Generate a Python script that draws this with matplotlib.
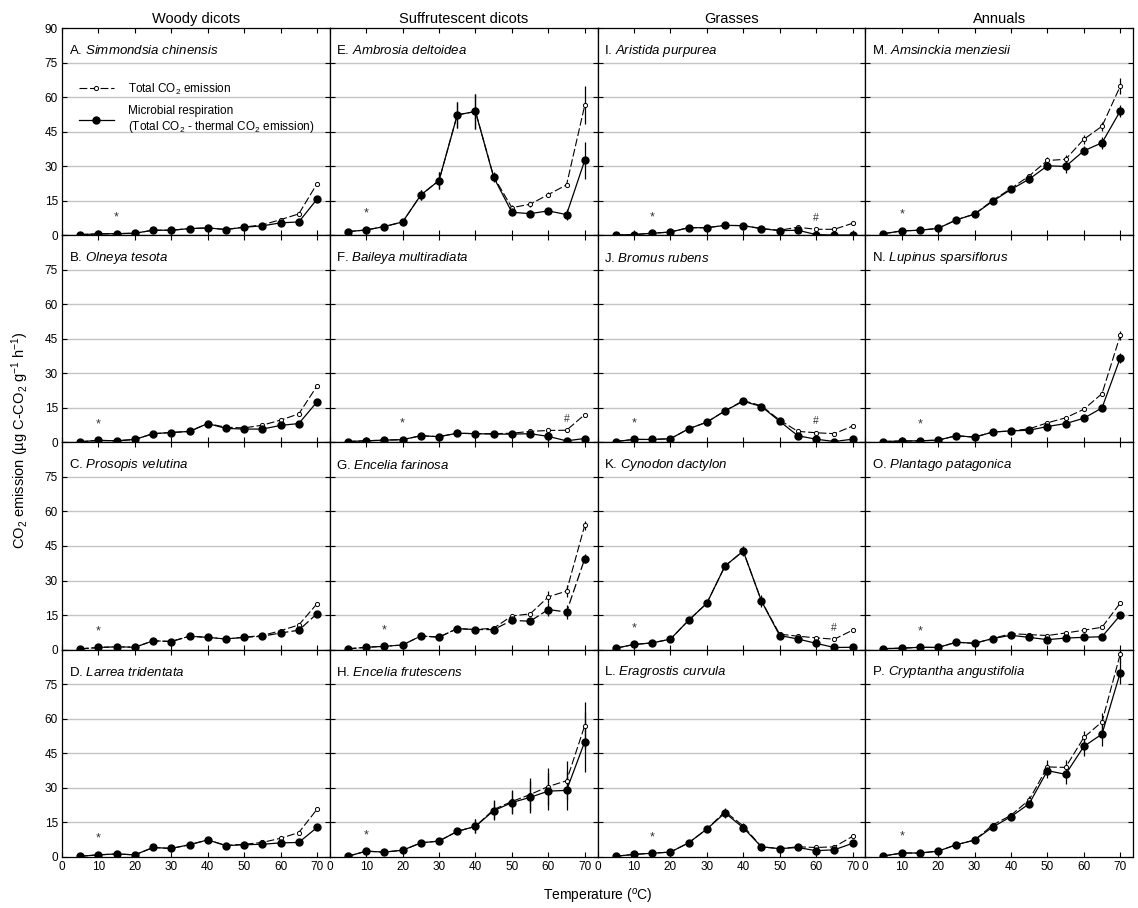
import numpy as np
import matplotlib
matplotlib.use('Agg')
import matplotlib.pyplot as plt

plt.rcParams['font.family'] = ['Liberation Sans', 'DejaVu Sans']
plt.rcParams['mathtext.fontset'] = 'custom'
plt.rcParams['mathtext.rm'] = 'Liberation Sans'
plt.rcParams['mathtext.it'] = 'Liberation Sans:italic'

temps = [5, 10, 15, 20, 25, 30, 35, 40, 45, 50, 55, 60, 65, 70]
groups = ['Woody dicots', 'Suffrutescent dicots', 'Grasses', 'Annuals']

# microbial respiration (filled) and total CO2 emission (open), per panel
micro_A = [0.3, 0.6, 0.7, 0.9, 2.2, 2.2, 2.9, 3.2, 2.5, 3.5, 4.1, 5.4, 5.8, 15.7]
total_A = [0.3, 0.6, 0.7, 0.9, 2.2, 2.2, 2.9, 3.2, 2.5, 3.6, 4.5, 6.8, 9.3, 22.4]
micro_B = [0.3, 0.9, 0.7, 1.3, 3.8, 4.3, 4.8, 8.2, 6.1, 5.8, 5.8, 7.4, 8.2, 17.6]
total_B = [0.3, 0.9, 0.7, 1.3, 3.8, 4.3, 4.8, 8.2, 6.6, 6.3, 7.5, 9.7, 12.4, 24.5]
micro_C = [0.3, 0.9, 1.2, 1.0, 3.8, 3.5, 5.8, 5.3, 4.6, 5.3, 5.8, 7.2, 8.4, 15.6]
total_C = [0.3, 0.9, 1.2, 1.0, 3.8, 3.5, 5.8, 5.3, 4.6, 5.4, 6.1, 8.2, 10.7, 19.9]
micro_D = [0.2, 0.8, 1.2, 0.8, 4.0, 3.6, 5.2, 7.3, 4.8, 5.2, 5.4, 6.0, 6.2, 12.7]
total_D = [0.2, 0.8, 1.2, 0.8, 4.0, 3.6, 5.2, 7.3, 4.9, 5.4, 6.2, 8.0, 10.5, 20.6]
micro_E = [1.6, 2.3, 3.8, 5.8, 17.5, 23.8, 52.3, 53.8, 25.2, 10.0, 9.4, 10.6, 9.0, 32.6]
total_E = [1.6, 2.3, 3.8, 5.8, 17.5, 23.8, 52.3, 53.8, 25.5, 12.0, 13.5, 17.7, 21.9, 56.5]
micro_F = [0.4, 0.7, 1.0, 1.2, 2.9, 2.5, 4.0, 3.8, 3.6, 3.6, 3.8, 2.6, 0.7, 1.7]
total_F = [0.4, 0.7, 1.0, 1.2, 2.9, 2.5, 4.0, 3.8, 3.8, 4.0, 4.8, 5.2, 5.3, 12.1]
micro_G = [0.3, 1.0, 1.4, 2.0, 5.9, 5.4, 9.1, 8.7, 8.7, 12.7, 12.3, 17.4, 16.3, 39.5]
total_G = [0.3, 1.0, 1.4, 2.0, 5.9, 5.4, 9.1, 8.7, 9.3, 14.6, 15.5, 22.9, 25.4, 54.0]
micro_H = [0.2, 2.4, 2.0, 2.8, 6.0, 6.8, 11.0, 13.2, 20.0, 23.5, 25.8, 28.5, 28.8, 50.0]
total_H = [0.2, 2.4, 2.0, 2.8, 6.0, 6.8, 11.0, 13.2, 20.5, 24.0, 27.0, 30.5, 33.0, 57.0]
micro_I = [0.1, 0.3, 0.9, 1.4, 3.3, 3.3, 4.3, 4.2, 2.9, 2.0, 2.2, 0.3, 0.1, 0.1]
total_I = [0.1, 0.3, 0.9, 1.4, 3.3, 3.3, 4.3, 4.2, 2.9, 2.2, 3.5, 2.6, 2.6, 5.2]
micro_J = [0.4, 1.3, 1.3, 1.6, 5.9, 8.8, 13.7, 17.9, 15.6, 9.2, 2.9, 1.4, 0.4, 1.4]
total_J = [0.4, 1.3, 1.3, 1.6, 5.9, 8.8, 13.7, 18.2, 15.9, 9.7, 4.8, 4.2, 3.8, 7.1]
micro_K = [0.6, 2.2, 2.9, 4.5, 12.7, 20.1, 36.3, 42.8, 21.1, 6.1, 4.6, 2.7, 0.9, 1.0]
total_K = [0.6, 2.2, 2.9, 4.5, 12.7, 20.1, 36.3, 42.8, 21.1, 6.7, 5.8, 5.1, 4.5, 8.4]
micro_L = [0.2, 1.0, 1.5, 2.0, 6.0, 12.0, 19.0, 12.6, 4.3, 3.5, 4.0, 2.6, 3.0, 5.8]
total_L = [0.2, 1.0, 1.5, 2.0, 6.0, 12.0, 19.6, 13.4, 4.3, 3.5, 4.3, 4.0, 4.3, 8.8]
micro_M = [0.7, 1.9, 2.2, 3.0, 6.7, 9.2, 14.8, 19.9, 24.4, 30.2, 29.9, 36.7, 40.2, 54.0]
total_M = [0.7, 1.9, 2.2, 3.0, 6.7, 9.2, 15.2, 20.3, 25.8, 32.5, 33.0, 41.7, 47.4, 64.8]
micro_N = [0.4, 0.6, 0.7, 1.0, 2.9, 2.3, 4.5, 5.0, 5.3, 6.9, 8.2, 10.5, 15.0, 36.7]
total_N = [0.4, 0.6, 0.7, 1.0, 2.9, 2.3, 4.5, 5.0, 5.9, 8.5, 10.7, 14.4, 21.2, 46.5]
micro_O = [0.4, 0.6, 1.0, 0.9, 3.2, 2.7, 4.8, 6.2, 5.3, 4.3, 5.0, 5.3, 5.6, 14.9]
total_O = [0.4, 0.6, 1.0, 0.9, 3.2, 2.7, 4.8, 6.9, 6.5, 6.1, 7.2, 8.4, 9.7, 20.2]
micro_P = [0.3, 1.6, 1.6, 2.4, 5.2, 7.2, 12.9, 17.4, 23.0, 37.4, 35.8, 47.9, 53.3, 80.0]
total_P = [0.3, 1.6, 1.6, 2.4, 5.2, 7.2, 13.8, 18.0, 24.7, 39.0, 38.8, 51.8, 58.6, 88.0]

# standard errors (only the visible ones)
err_micro_E = [0, 0, 0, 0, 2.0, 3.6, 5.5, 7.5, 2.0, 1.0, 1.5, 1.0, 2.5, 8.0]
err_total_E = [0, 0, 0, 0, 2.0, 3.6, 5.5, 7.5, 2.0, 1.0, 1.0, 1.0, 1.0, 8.2]
err_micro_G = [0, 0, 0, 0, 0.5, 0.5, 0.5, 0.5, 0.8, 1.0, 1.0, 3.0, 3.0, 2.0]
err_total_G = [0, 0, 0, 0, 0.5, 0.5, 0.5, 0.5, 0.8, 1.0, 1.0, 2.5, 2.5, 2.0]
err_micro_H = [0, 0, 0, 0, 0.5, 0.5, 1.0, 3.0, 4.0, 5.0, 7.0, 8.0, 8.5, 13.0]
err_total_H = [0, 0, 0, 0, 0.5, 0.5, 1.0, 3.0, 4.0, 5.0, 7.0, 8.0, 8.5, 10.0]
err_micro_K = [0, 0, 0, 0, 0.5, 0.5, 1.5, 2.0, 2.5, 0.5, 0.5, 0, 0, 0]
err_micro_L = [0, 0, 0, 0, 0.5, 0.5, 2.0, 2.0, 0.5, 0, 0, 0, 0, 0]
err_micro_M = [0, 0, 0, 0, 0.5, 0.5, 1.0, 1.0, 1.5, 2.0, 3.0, 2.0, 2.5, 2.5]
err_total_M = [0, 0, 0, 0, 0.5, 0.5, 1.0, 1.0, 1.0, 1.5, 2.0, 2.0, 2.0, 3.4]
err_micro_N = [0, 0, 0, 0, 0, 0, 0, 0, 0, 0.5, 0.5, 0.5, 0.5, 2.0]
err_total_N = [0, 0, 0, 0, 0, 0, 0, 0, 0, 0.5, 0.5, 0.5, 1.0, 2.0]
err_micro_P = [0, 0, 0, 0, 0.5, 0.5, 1.0, 1.0, 1.5, 3.0, 4.0, 4.0, 5.0, 5.0]
err_total_P = [0, 0, 0, 0, 0.5, 0.5, 1.0, 1.0, 1.5, 3.0, 3.0, 3.0, 4.0, 4.0]

panel_names = ['A. $\\it{Simmondsia\\ chinensis}$', 'B. $\\it{Olneya\\ tesota}$',
               'C. $\\it{Prosopis\\ velutina}$', 'D. $\\it{Larrea\\ tridentata}$',
               'E. $\\it{Ambrosia\\ deltoidea}$', 'F. $\\it{Baileya\\ multiradiata}$',
               'G. $\\it{Encelia\\ farinosa}$', 'H. $\\it{Encelia\\ frutescens}$',
               'I. $\\it{Aristida\\ purpurea}$', 'J. $\\it{Bromus\\ rubens}$',
               'K. $\\it{Cynodon\\ dactylon}$', 'L. $\\it{Eragrostis\\ curvula}$',
               'M. $\\it{Amsinckia\\ menziesii}$', 'N. $\\it{Lupinus\\ sparsiflorus}$',
               'O. $\\it{Plantago\\ patagonica}$', 'P. $\\it{Cryptantha\\ angustifolia}$']
star_temp = [15, 10, 10, 10, 10, 20, 15, 10, 15, 10, 10, 15, 10, 15, 15, 10]
hash_temp = [None, None, None, None, None, 65, None, None, 60, 60, 65, None, None, None, None, None]

micro_all = [micro_A, micro_B, micro_C, micro_D, micro_E, micro_F, micro_G, micro_H,
             micro_I, micro_J, micro_K, micro_L, micro_M, micro_N, micro_O, micro_P]
total_all = [total_A, total_B, total_C, total_D, total_E, total_F, total_G, total_H,
             total_I, total_J, total_K, total_L, total_M, total_N, total_O, total_P]
err_micro_all = {4: err_micro_E, 6: err_micro_G, 7: err_micro_H, 10: err_micro_K,
                 11: err_micro_L, 12: err_micro_M, 13: err_micro_N, 15: err_micro_P}
err_total_all = {4: err_total_E, 6: err_total_G, 7: err_total_H, 12: err_total_M,
                 13: err_total_N, 15: err_total_P}

fig, axes = plt.subplots(4, 4, figsize=(11.38, 9.08), dpi=100, sharex=True)
fig.subplots_adjust(left=0.0545, right=0.9956, top=0.969, bottom=0.0565, wspace=0, hspace=0)

dash = (0, (7, 2.5))
for col in range(4):
    for row in range(4):
        k = col * 4 + row
        ax = axes[row, col]
        micro = micro_all[k]
        total = total_all[k]
        for g in [15, 30, 45, 60, 75]:
            ax.axhline(g, color='#c4c4c4', lw=1.0, zorder=0)
        if k in err_total_all:
            ax.errorbar(temps, total, yerr=err_total_all[k], fmt='none', ecolor='black', elinewidth=0.9, capsize=0, zorder=2)
        if k in err_micro_all:
            ax.errorbar(temps, micro, yerr=err_micro_all[k], fmt='none', ecolor='black', elinewidth=0.9, capsize=0, zorder=2)
        ax.plot(temps, total, color='black', lw=0.8, ls=dash, marker='o', ms=3,
                mfc='white', mec='black', mew=0.7, zorder=3, label='Total CO$_2$ emission')
        micro_ls = dash if k in (2, 6) else '-'
        ax.plot(temps, micro, color='black', lw=0.9, ls=micro_ls, marker='o', ms=5,
                mfc='black', mec='black', zorder=4,
                label='Microbial respiration\n(Total CO$_2$ - thermal CO$_2$ emission)')
        i = temps.index(star_temp[k])
        ax.text(star_temp[k], max(micro[i], total[i]) + 7, '*', ha='center', va='center', fontsize=9, color='#333333')
        if hash_temp[k] is not None:
            i = temps.index(hash_temp[k])
            ax.text(hash_temp[k], total[i] + 5, '#', ha='center', va='center', fontsize=7.5, color='#333333')
        ax.text(0.025, 0.89, panel_names[k], transform=ax.transAxes, fontsize=9.5, va='center')
        ax.set_xlim(0, 73.5)
        ax.set_ylim(0, 90)
        ax.set_xticks(range(0, 71, 10))
        ax.set_yticks(range(0, 91, 15))
        ax.tick_params(direction='in', top=True, right=True, length=3.5, width=0.8, labelsize=8.5, pad=3)
        for s in ax.spines.values():
            s.set_linewidth(0.9)
        if row == 0:
            ax.set_title(groups[col], fontsize=10.5, pad=4)
        if col == 0:
            labels = [str(v) for v in range(0, 91, 15)]
            if row > 0:
                labels[-1] = ''
            ax.set_yticklabels(labels)
        else:
            ax.tick_params(labelleft=False)

axes[0, 0].legend(loc='upper left', bbox_to_anchor=(0.045, 0.765), frameon=False, fontsize=8.5,
                  handlelength=3.0, labelspacing=0.7, borderaxespad=0.0, handletextpad=1.2)

fig.text(0.018, 0.515, 'CO$_2$ emission (µg C-CO$_2$ g$^{-1}$ h$^{-1}$)', rotation=90,
         ha='center', va='center', fontsize=10.5)
fig.text(0.525, 0.013, 'Temperature ($^{o}$C)', ha='center', va='center', fontsize=10)

fig.savefig('out.png', dpi=100)
